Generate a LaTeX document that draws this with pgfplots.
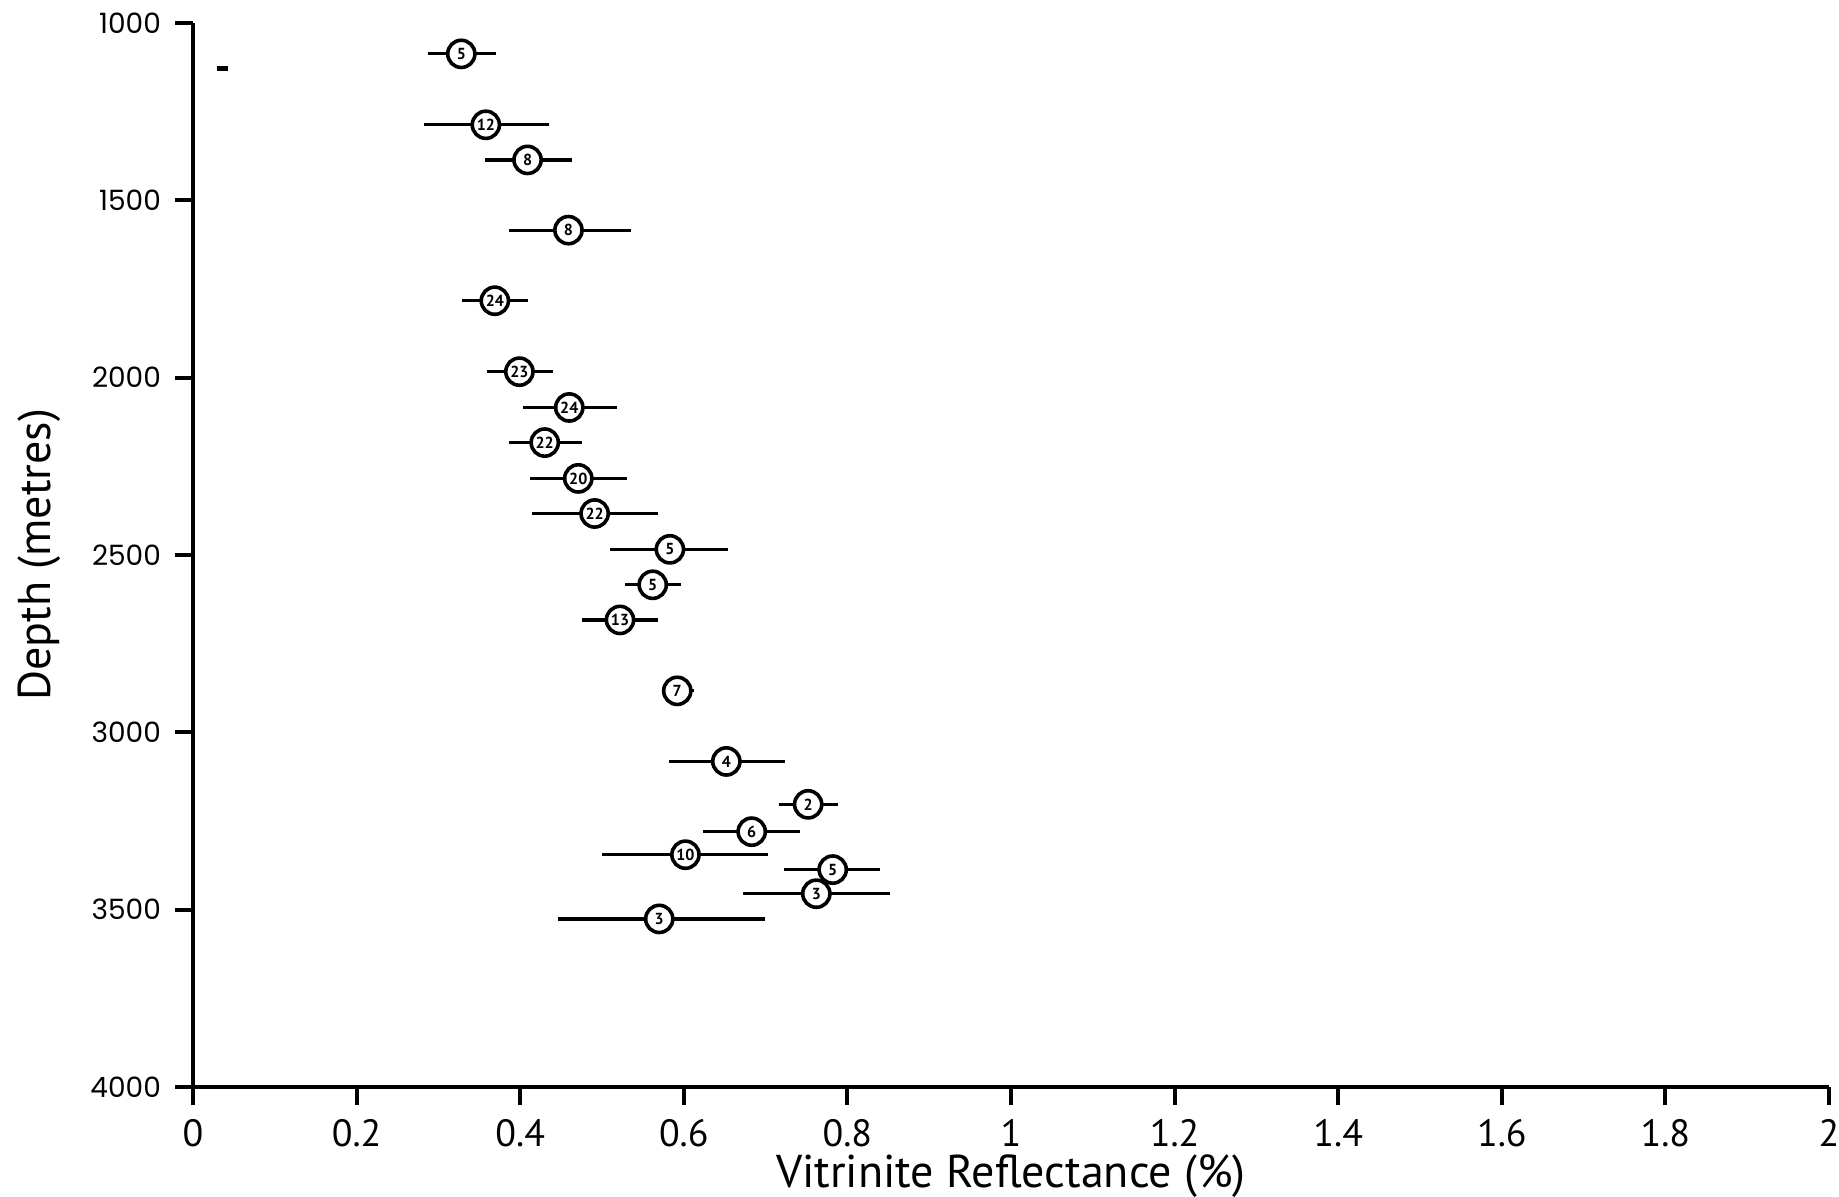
\documentclass[border=0pt]{standalone}
\usepackage{pgfplots}
\usepackage{pgfplotstable}
\usepackage{fontspec}
\pgfplotsset{compat=1.18}
\setmainfont{PT Sans}
\newfontfamily\ticky{Poppins}
\newfontfamily\labfont{PT Sans}

% depth (m), mean reflectance (%), spread below/above, number of readings
\pgfplotstableread{
x     y     em     ep     n
0.328 1087  0.041  0.042  5
0.358 1287  0.075  0.077  12
0.409 1386  0.052  0.054  8
0.459 1584  0.073  0.076  8
0.369 1783  0.040  0.040  24
0.399 1983  0.040  0.041  23
0.460 2084  0.057  0.058  24
0.430 2183  0.044  0.046  22
0.471 2284  0.059  0.060  20
0.491 2383  0.076  0.077  22
0.583 2484  0.073  0.071  5
0.562 2584  0.034  0.034  5
0.522 2683  0.047  0.047  13
0.592 2883  0.019  0.021  7
0.652 3082  0.070  0.072  4
0.752 3203  0.036  0.037  2
0.683 3280  0.060  0.059  6
0.602 3345  0.102  0.101  10
0.782 3387  0.059  0.058  5
0.762 3455  0.090  0.090  3
0.570 3526  0.124  0.129  3
}\ro

\begin{document}
\begin{tikzpicture}
\useasboundingbox (-48.25pt,-27.5pt) rectangle (411.5pt,271.75pt);
\begin{axis}[
  at={(0,0)}, anchor=south west,
  scale only axis,
  width=409pt, height=266pt,
  xmin=0, xmax=2, ymin=1000, ymax=4000,
  y dir=reverse,
  axis lines*=left,
  axis line style={line width=1pt},
  xtick={0,0.2,...,2.01},
  ytick={1000,1500,...,4000},
  tick align=outside,
  major tick length=4.5pt,
  every tick/.style={line width=1pt, black},
  /pgf/number format/assume math mode=true,
  xticklabel style={font=\labfont\fontsize{9.5}{10}\selectfont},
  yticklabel style={font=\ticky\fontsize{7}{8}\selectfont},
  xticklabel={\pgfmathprintnumber[fixed,precision=1]{\tick}},
  yticklabel={\pgfmathprintnumber[fixed,set thousands separator={}]{\tick}},
  xlabel={Vitrinite Reflectance (\%)},
  ylabel={Depth (metres)},
  xlabel style={font=\labfont\fontsize{11.5}{12}\selectfont,
    at={([yshift=-25pt]axis description cs:0.5,0)}, anchor=base},
  ylabel style={font=\labfont\fontsize{11.5}{12}\selectfont,
    at={([xshift=-38.5pt]axis description cs:0,0.5)}, anchor=center},
  clip=false,
]
% spread of readings
\addplot[draw=none, mark=none, forget plot,
  error bars/.cd, x dir=both, x explicit, error mark=none,
  error bar style={draw=black, line width=0.8pt}]
  table[x=x, y=y, x error minus=em, x error plus=ep]{\ro};
% mean values, labelled with the sample count
\addplot[only marks, mark=*, mark size=3.4pt,
  mark options={fill=white, draw=black, line width=0.9pt},
  point meta=explicit symbolic,
  nodes near coords, nodes near coords align={center},
  every node near coord/.append style={font=\labfont\bfseries\fontsize{4}{4}\selectfont, inner sep=0pt}]
  table[x=x, y=y, meta=n]{\ro};
% isolated reading near the surface
\addplot[only marks, mark=-, mark size=1.3pt, mark options={line width=1.2pt}]
  coordinates {(0.036,1129)};
\end{axis}
\end{tikzpicture}
\end{document}
